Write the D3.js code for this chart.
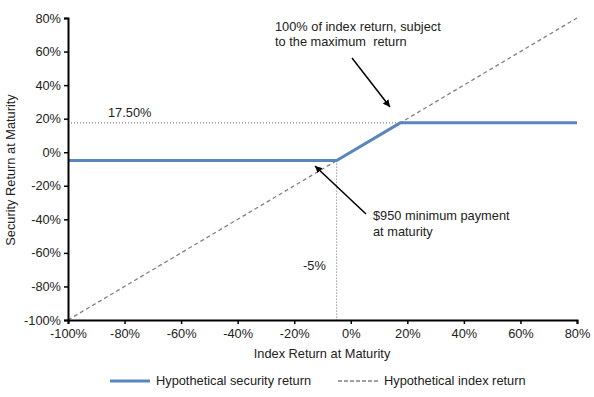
<!DOCTYPE html>
<html><head><meta charset="utf-8">
<script src="https://cdn.jsdelivr.net/npm/d3@7"></script>
<style>body{margin:0;background:#fff}svg{display:block}text{font-family:"Liberation Sans",Arial,sans-serif;fill:#222;white-space:pre}</style>
</head><body><svg id="c" width="594" height="397"></svg>
<script>
const xTicks = [-100,-80,-60,-40,-20,0,20,40,60,80];
const yTicks = [-100,-80,-60,-40,-20,0,20,40,60,80];
const securityX = [-100,-5,17.5,80];
const securityY = [-5,-5,17.5,17.5];
const indexX = [-100,80];
const indexY = [-100,80];
const capLevel = 17.5;
const floorLevel = -5;

const svg = d3.select("#c");
const x = d3.scaleLinear().domain([-100,80]).range([68,577]);
const y = d3.scaleLinear().domain([-100,80]).range([320,18]);
const fmt = d => d + "%";
const FS = 12.8;

// reference dotted lines
svg.append("line").attr("x1",x(-100)).attr("x2",x(capLevel)).attr("y1",y(capLevel)).attr("y2",y(capLevel))
  .attr("stroke","#666").attr("stroke-width",1).attr("stroke-dasharray","1,2");
svg.append("line").attr("x1",x(floorLevel)).attr("x2",x(floorLevel)).attr("y1",y(floorLevel)).attr("y2",y(-100))
  .attr("stroke","#666").attr("stroke-width",1).attr("stroke-dasharray","1,2");

// index line
const line = d3.line().x(d=>x(d[0])).y(d=>y(d[1]));
svg.append("path").datum(indexX.map((v,i)=>[v,indexY[i]])).attr("d",line)
  .attr("fill","none").attr("stroke","#808080").attr("stroke-width",1.3).attr("stroke-dasharray","4,3");
svg.append("path").datum(securityX.map((v,i)=>[v,securityY[i]])).attr("d",line)
  .attr("fill","none").attr("stroke","#5a85bd").attr("stroke-width",3);

// axes
const gy = svg.append("g").attr("transform",`translate(${x(-100)},0)`)
  .call(d3.axisLeft(y).tickValues(yTicks).tickFormat(fmt).tickSize(4).tickPadding(3));
const gx = svg.append("g").attr("transform",`translate(0,${y(-100)})`)
  .call(d3.axisBottom(x).tickValues(xTicks).tickFormat(fmt).tickSize(4).tickPadding(5));
[gx,gy].forEach(g=>{
  g.select(".domain").attr("stroke","#000").attr("stroke-width",2);
  g.selectAll(".tick line").attr("stroke","#000").attr("stroke-width",1.5);
  g.selectAll(".tick text").attr("font-size",FS).attr("fill","#222")
   .style("font-family",'"Liberation Sans",Arial,sans-serif');
});

// axis titles
svg.append("text").attr("x",322).attr("y",358).attr("text-anchor","middle").attr("font-size",FS).text("Index Return at Maturity");
svg.append("text").attr("transform","translate(15,170) rotate(-90)").attr("text-anchor","middle").attr("font-size",FS).text("Security Return at Maturity");

// annotations
svg.append("text").attr("x",108).attr("y",117).attr("font-size",FS).text("17.50%");
svg.append("text").attr("x",303).attr("y",270).attr("font-size",FS).text("-5%");
const t1 = svg.append("text").attr("font-size",FS);
t1.append("tspan").attr("x",275).attr("y",31).text("100% of index return, subject");
t1.append("tspan").attr("x",275).attr("y",46).text("to the maximum  return");
const t2 = svg.append("text").attr("font-size",FS);
t2.append("tspan").attr("x",373).attr("y",220).text("$950 minimum payment");
t2.append("tspan").attr("x",373).attr("y",236).text("at maturity");

svg.append("defs").append("marker").attr("id","ah").attr("viewBox","0 0 10 10").attr("refX",10).attr("refY",5)
  .attr("markerWidth",7).attr("markerHeight",7).attr("markerUnits","userSpaceOnUse").attr("orient","auto")
  .append("path").attr("d","M0,0L10,5L0,10z").attr("fill","#000");
svg.append("line").attr("x1",352).attr("y1",58).attr("x2",390).attr("y2",107)
  .attr("stroke","#000").attr("stroke-width",1.5).attr("marker-end","url(#ah)");
svg.append("line").attr("x1",366).attr("y1",214).attr("x2",315).attr("y2",166)
  .attr("stroke","#000").attr("stroke-width",1.5).attr("marker-end","url(#ah)");

// legend
svg.append("line").attr("x1",110).attr("x2",150).attr("y1",381).attr("y2",381).attr("stroke","#5a85bd").attr("stroke-width",3);
svg.append("text").attr("x",156).attr("y",385).attr("font-size",FS).text("Hypothetical security return");
svg.append("line").attr("x1",338).attr("x2",380).attr("y1",381).attr("y2",381).attr("stroke","#808080").attr("stroke-width",1.3).attr("stroke-dasharray","4,2");
svg.append("text").attr("x",384).attr("y",385).attr("font-size",FS).text("Hypothetical index return");
</script></body></html>
